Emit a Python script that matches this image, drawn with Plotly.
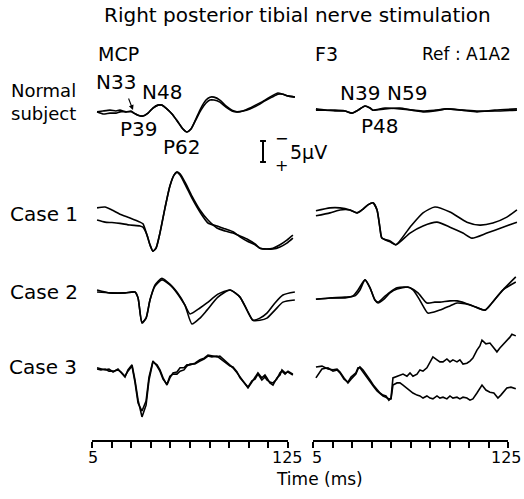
import plotly.graph_objects as go

# ---------------- data: time (ms), amplitude (µV, negative = upward) ----------------
# Normal subject, MCP
t_norm_mcp = [8.1, 11.7, 16.0, 19.7, 22.1, 25.8, 28.9, 30.7, 33.2, 36.2, 39.3, 42.3, 45.4, 47.8, 50.3,
              54.0, 57.6, 60.7, 63.1, 65.6, 68.6, 71.7, 74.8, 77.2, 79.7, 83.3, 87.0, 90.7, 93.7, 97.4,
              101.7, 106.6, 110.9, 115.2, 118.8, 121.9, 124.9, 129.2]
v_norm_mcp_a = [0.2, 0, -0.2, 0, -0.2, 0.2, 0, 0.5, 1.0, 1.2, 0.5, -0.7, -1.4, -1.4, -0.7,
                0.7, 2.6, 4.3, 5.0, 4.3, 1.9, -0.7, -2.6, -3.3, -3.3, -2.6, -1.2, -0.2, 0.2, 0,
                -0.7, -1.7, -2.6, -3.6, -4.3, -4.0, -3.6, -3.3]
v_norm_mcp_b = [0.2, 0.7, 0.5, 0.5, 0.2, 0.2, 0.2, 0.5, 1.0, 1.2, 0.5, -0.7, -1.4, -1.4, -0.7,
                0.7, 2.6, 4.3, 5.0, 4.3, 2.1, -0.2, -1.9, -2.6, -2.6, -2.1, -0.9, 0, 0.2, 0,
                -0.5, -1.4, -2.4, -3.3, -4.0, -4.0, -3.6, -3.3]

# Normal subject, F3
t_norm_f3 = [6.8, 12.4, 18.5, 24.7, 29.0, 32.7, 37.0, 40.1, 41.9, 49.3, 58.5, 65.9, 72.7, 80.0,
             87.4, 96.6, 105.9, 116.9, 130.5]
v_norm_f3_a = [-0.5, -0.2, -0.2, 0, 0.5, -0.2, -1.2, -0.7, -0.2, -0.5, -0.7, -0.2, 0, -0.2,
               -0.5, -0.2, 0, 0, -0.2]
v_norm_f3_b = [-0.2, -0.2, 0, 0, 0.5, -0.2, -1.2, -0.7, -0.2, -0.7, -0.5, -0.2, 0.2, 0,
               -0.5, -0.2, 0.2, -0.2, -0.5]

# Case 1, MCP
t_c1_mcp = [8.1, 13.0, 17.2, 22.1, 28.3, 34.4, 36.2, 38.7, 40.5, 42.3, 44.2, 46.6, 49.7, 52.7,
            55.2, 57.0, 58.9, 62.5, 66.2, 71.1, 76.0, 81.5, 86.4, 91.3, 95.6, 99.9, 104.8, 107.8,
            112.1, 115.8, 120.1, 124.3, 128.0]
v_c1_mcp_a = [-1.7, -1.9, -1.2, -0.2, 0.7, 1.7, 2.1, 4.8, 7.1, 8.6, 7.9, 4.3, -1.7, -6.9,
              -9.5, -10.2, -9.8, -7.4, -4.5, -1.2, 1.2, 3.1, 3.8, 4.3, 5.0, 5.7, 6.9, 7.9,
              8.1, 8.1, 7.6, 6.7, 5.5]
v_c1_mcp_b = [1.2, 1.7, 1.8, 2.0, 2.4, 2.6, 2.9, 4.8, 7.1, 8.6, 7.9, 4.3, -1.7, -6.9,
              -9.5, -10.2, -9.5, -6.9, -4.0, -0.7, 1.9, 2.6, 3.3, 4.0, 5.2, 6.2, 7.1, 7.9,
              8.1, 7.9, 7.1, 6.0, 4.8]

# Case 1, F3
t_c1_f3_a = [6.8, 15.5, 21.6, 27.8, 32.1, 35.1, 38.8, 41.9, 44.4, 46.2, 47.4, 52.4, 56.0,
             64.7, 72.7, 80.0, 89.3, 99.7, 107.7, 115.7, 124.3, 130.5]
v_c1_f3_a = [-1.0, -1.7, -1.7, -1.2, -0.5, -1.2, -2.4, -2.9, -1.2, 3.1, 5.5, 6.4, 7.1,
             2.9, -0.5, -1.9, -0.7, 1.7, 2.4, 1.9, 0.5, -1.2]
t_c1_f3_b = [6.8, 15.5, 21.6, 27.8, 32.1, 35.1, 38.8, 41.9, 44.4, 46.2, 47.4, 52.4, 56.0,
             64.7, 72.7, 81.3, 89.3, 97.3, 102.8, 112.0, 121.9, 130.5]
v_c1_f3_b = [0.2, -0.5, -1.2, -1.2, -0.5, -1.2, -2.4, -2.9, -1.2, 3.1, 5.5, 6.2, 7.1,
             4.3, 2.6, 1.7, 2.9, 4.3, 5.5, 4.3, 2.9, 1.7]

# Case 2, MCP
t_c2_mcp_a = [8.1, 16.0, 25.2, 31.3, 33.2, 35.6, 38.1, 40.5, 43.6, 47.8, 52.7, 57.0, 61.9,
              66.2, 71.1, 75.4, 82.1, 89.5, 95.6, 99.9, 103.5, 107.8, 112.1, 117.0, 121.9, 129.2]
v_c2_mcp_a = [-0.7, -0.5, -0.5, -0.7, 0.7, 6.7, 5.5, 1.2, -2.4, -4.0, -2.6, -0.7, 2.4,
              6.9, 5.5, 3.6, 0.5, -1.2, 0.5, 3.6, 6.0, 5.5, 4.3, 1.9, 0, -0.7]
t_c2_mcp_b = [8.1, 16.0, 25.2, 31.3, 33.2, 35.6, 38.1, 40.5, 43.6, 47.8, 52.7, 57.0, 61.9,
              65.0, 71.1, 75.4, 82.1, 89.5, 95.6, 99.9, 103.5, 107.8, 112.1, 117.0, 121.9, 129.2]
v_c2_mcp_b = [-1.2, -0.5, -0.5, -0.7, 0.7, 6.5, 5.5, 1.2, -2.1, -3.6, -2.4, -0.5, 2.4,
              4.5, 3.1, 1.9, -0.2, -1.2, 0.5, 3.6, 6.0, 6.0, 5.5, 3.6, 1.7, 1.2]

# Case 2, F3
t_c2_f3_a = [6.8, 15.5, 24.7, 30.8, 33.9, 37.0, 40.1, 43.1, 45.0, 48.7, 52.4, 56.7, 63.4, 66.5,
             69.6, 72.7, 75.7, 80.0, 83.1, 89.3, 93.6, 98.5, 103.4, 110.8, 115.1, 121.9, 129.8]
v_c2_f3_a = [1.0, 0.7, 0.5, 0.2, -1.2, -3.6, -1.7, 1.2, 1.9, 1.0, -0.5, -1.4, -1.9, -1.2,
             0.5, 2.6, 4.3, 4.0, 3.6, 2.6, 1.9, 2.1, 2.6, 3.6, 1.9, -1.2, -4.3]
t_c2_f3_b = [6.8, 15.5, 24.7, 29.6, 32.7, 37.0, 40.1, 43.1, 45.0, 48.7, 52.4, 56.7, 61.6, 64.7,
             69.6, 75.1, 80.0, 83.1, 89.3, 93.6, 98.5, 103.4, 110.8, 115.1, 121.9, 129.8]
v_c2_f3_b = [1.0, 0.7, 0.7, 0.2, -1.2, -3.6, -1.7, 1.2, 1.7, 0.5, -0.7, -1.7, -1.9, -1.7,
             -0.5, 1.9, 1.7, 1.7, 1.4, 1.4, 1.9, 2.6, 3.6, 1.9, -1.2, -3.1]

# Case 3, MCP
t_c3_mcp = [8.1, 10.5, 13.0, 15.4, 17.9, 20.9, 22.8, 25.2, 27.0, 29.5, 31.3, 33.2, 35.6, 38.1,
            39.9, 42.3, 44.8, 46.6, 48.5, 50.9, 52.7, 54.6, 57.0, 58.9, 61.3, 63.1, 65.0, 68.0,
            71.1, 73.6, 76.0, 78.4, 81.5, 83.3, 85.8, 87.6, 89.5, 91.3, 93.8, 95.6, 98.1, 100.5,
            102.9, 104.8, 106.6, 109.0, 110.9, 112.1, 113.9, 115.8, 118.2, 120.1, 121.3, 123.2,
            125.0, 128.0]
v_c3_mcp_a = [-1.0, -0.7, -0.5, -0.7, 0, -0.7, 0.2, 1.2, -0.5, -1.7, 1.9, 6.7, 10.7, 7.9,
              1.9, -2.4, -1.7, -0.5, 1.4, 3.1, 1.4, 0.2, 0, -1.0, -1.0, -1.7, -1.7, -2.1,
              -2.9, -3.3, -4.0, -3.8, -3.6, -3.8, -2.9, -2.4, -1.7, -1.0, 0.2, 1.2, 2.4, 3.8,
              2.4, 1.4, 0.2, 1.4, 0.7, 1.4, 2.6, 3.1, 1.4, 0.7, -0.5, 0.2, 0, 0.7]
v_c3_mcp_b = [-0.7, -0.5, -0.7, -0.2, -0.2, -0.5, 0, 1.0, -0.2, -1.4, 2.4, 7.4, 9.3, 6.9,
              1.2, -2.6, -1.4, -0.2, 1.7, 2.9, 1.0, 0.5, 0.5, -0.2, -0.5, -1.4, -1.9, -1.9,
              -2.6, -3.1, -3.8, -3.6, -3.8, -3.3, -2.6, -2.1, -1.4, -1.2, 0, 1.4, 2.6, 3.6,
              2.1, 1.7, 0.5, 1.9, 1.2, 1.9, 2.4, 2.6, 1.7, 0.2, -0.2, 0.5, -0.2, 0.5]

# Case 3, F3
t_c3_f3_a = [6.8, 10.5, 14.2, 17.3, 19.8, 21.6, 24.1, 26.5, 28.4, 29.6, 31.4, 32.7, 33.9, 35.8,
             38.2, 40.1, 42.5, 44.4, 46.2, 48.1, 49.9, 51.7, 53.0,
             54.2, 56.7, 58.5, 60.4, 62.8, 64.7, 66.5, 69.0, 70.8, 72.7, 75.1, 77.0, 78.8, 81.3,
             83.1, 85.0, 87.4, 89.3, 91.1, 93.6, 95.4, 97.3, 99.7, 101.6, 103.4, 105.9, 107.7,
             109.0, 111.4, 113.9, 116.3, 118.2, 120.0, 122.5, 124.3, 126.2, 127.4, 129.8]
v_c3_f3_a = [-1.2, -1.4, -0.7, -0.5, -0.7, 0, 1.4, 2.6, 1.7, 1.2, 0.5, -0.7, -1.2, -0.5,
             1.0, 1.9, 3.3, 4.3, 5.0, 5.5, 5.7, 6.7, 6.2,
             1.4, 1.0, 0.7, 0.5, 1.0, 0.2, 1.0, 0.5, -0.5, -0.2, -1.0, -2.4, -3.6, -2.9,
             -2.4, -2.4, -3.1, -2.4, -2.9, -2.4, -2.9, -1.9, -2.1, -2.6, -3.3, -5.2, -6.2,
             -7.6, -6.7, -6.9, -5.7, -4.8, -5.7, -6.7, -7.6, -8.3, -9.0, -8.6]
t_c3_f3_b = [6.8, 10.5, 14.2, 17.3, 19.8, 21.6, 24.1, 26.5, 28.4, 29.6, 31.4, 32.7, 33.9, 35.8,
             38.2, 40.1, 42.5, 44.4, 46.2, 48.1, 49.9, 51.7, 53.0,
             54.2, 56.7, 58.5, 60.4, 62.8, 64.7, 66.5, 69.0, 70.8, 72.7, 75.1, 77.0, 78.8, 81.3,
             83.1, 85.0, 87.4, 89.3, 91.1, 93.6, 95.4, 97.3, 99.7, 101.6, 103.4, 105.9, 107.7,
             109.0, 111.4, 113.9, 116.3, 118.8, 120.6, 122.5, 124.3, 126.8, 129.8]
v_c3_f3_b = [1.4, -0.7, -1.0, -0.2, -0.5, 0.2, 1.7, 2.4, 1.2, 0.7, 0.2, -1.0, -1.0, 0,
             1.4, 2.4, 3.6, 4.5, 5.2, 5.7, 6.0, 6.4, 6.4,
             3.1, 2.6, 2.6, 3.1, 3.8, 4.5, 5.0, 5.5, 5.7, 6.2, 5.7, 6.2, 6.4, 5.7,
             6.2, 6.0, 6.4, 5.7, 6.2, 6.0, 6.4, 6.0, 6.2, 6.7, 6.4, 5.0, 3.8,
             3.1, 4.3, 4.8, 5.0, 6.2, 5.5, 4.5, 3.8, 3.6, 4.0]

time_ticks = [5, 17, 29, 41, 53, 65, 77, 89, 101, 113, 125]
time_end_labels = [(5, "5"), (125, "125")]
scale_uv = 5

# ---------------- layout geometry ----------------
W, H = 524, 499
PX_PER_UV = 4.2
L5, L125 = 92, 288      # px of 5 ms / 125 ms, left panel
R5, R125 = 313, 508     # px of 5 ms / 125 ms, right panel
AXIS_Y = 441


def full_range(p5, p125):
    k = 120.0 / (p125 - p5)
    return [5 - p5 * k, 5 + (W - p5) * k]


row_px = {"normal": 111, "c1": 215, "c2": 295, "c3": 372}
FONT = "DejaVu Sans"

fig = go.Figure()


def add(t, v, xa, row, shape="spline"):
    off = row_px[row] / PX_PER_UV
    fig.add_trace(go.Scatter(
        x=t, y=[off + a for a in v], xaxis=xa, yaxis="y", mode="lines",
        line=dict(color="black", width=1.6, shape=shape, smoothing=0.6),
        hoverinfo="skip", showlegend=False))


add(t_norm_mcp, v_norm_mcp_a, "x", "normal")
add(t_norm_mcp, v_norm_mcp_b, "x", "normal")
add(t_norm_f3, v_norm_f3_a, "x2", "normal")
add(t_norm_f3, v_norm_f3_b, "x2", "normal")
add(t_c1_mcp, v_c1_mcp_a, "x", "c1")
add(t_c1_mcp, v_c1_mcp_b, "x", "c1")
add(t_c1_f3_a, v_c1_f3_a, "x2", "c1")
add(t_c1_f3_b, v_c1_f3_b, "x2", "c1")
add(t_c2_mcp_a, v_c2_mcp_a, "x", "c2")
add(t_c2_mcp_b, v_c2_mcp_b, "x", "c2")
add(t_c2_f3_a, v_c2_f3_a, "x2", "c2")
add(t_c2_f3_b, v_c2_f3_b, "x2", "c2")
add(t_c3_mcp, v_c3_mcp_a, "x", "c3", "linear")
add(t_c3_mcp, v_c3_mcp_b, "x", "c3", "linear")
add(t_c3_f3_a, v_c3_f3_a, "x2", "c3", "linear")
add(t_c3_f3_b, v_c3_f3_b, "x2", "c3", "linear")

# scale bar (5 µV) on the left panel's scale
bar_t = 109.7
bar_top = 141 / PX_PER_UV
sw = 1.8
fig.add_trace(go.Scatter(
    x=[bar_t - sw, bar_t + sw, None, bar_t, bar_t, None, bar_t - sw, bar_t + sw],
    y=[bar_top, bar_top, None, bar_top, bar_top + scale_uv, None, bar_top + scale_uv, bar_top + scale_uv],
    xaxis="x", yaxis="y", mode="lines", line=dict(color="black", width=2),
    hoverinfo="skip", showlegend=False))

# invisible traces so the displayed time axes are drawn
for xa in ("x3", "x4"):
    fig.add_trace(go.Scatter(x=[5, 125], y=[0, 0], xaxis=xa, yaxis="y", mode="markers",
                             marker=dict(opacity=0), hoverinfo="skip", showlegend=False))


def P(x, y):
    return x / W, 1 - y / H


ann = []


def label(text, x, y, size=20, xanchor="center"):
    px, py = P(x, y)
    ann.append(dict(text=text, x=px, y=py, xref="paper", yref="paper", showarrow=False,
                    xanchor=xanchor, yanchor="middle", font=dict(family=FONT, size=size, color="black")))


label("Right posterior tibial nerve stimulation", 297, 15)
label("MCP", 96, 54, size=19, xanchor="left")
label("F3", 313, 54, size=19, xanchor="left")
label("Ref : A1A2", 513, 54, size=17, xanchor="right")
label("Normal", 9, 91, size=18, xanchor="left")
label("subject", 9, 113, size=18, xanchor="left")
label("N33", 116, 82)
label("N48", 162, 92)
label("P39", 139, 129)
label("P62", 182, 147)
label("N39", 360, 93)
label("N59", 407, 93)
label("P48", 380, 126)
label("Case 1", 8, 214, xanchor="left")
label("Case 2", 8, 292, xanchor="left")
label("Case 3", 7, 367, xanchor="left")
label("−", 281, 139, size=16)
label("+", 281, 165, size=16)
label("5µV", 288, 152, size=19, xanchor="left")
label("Time (ms)", 319, 479, size=17)

# end labels of the time axes, placed on the axes' own scales
label_y = 1 - 457 / H
for xa, shifts in (("x3", (1, -1)), ("x4", (4, -2))):
    for (tv, txt), sh in zip(time_end_labels, shifts):
        ann.append(dict(text=txt, x=tv, y=label_y, xref=xa, yref="paper", showarrow=False,
                        xanchor="center", yanchor="middle", xshift=sh,
                        font=dict(family=FONT, size=16, color="black")))

tx, ty = P(133, 110)
ann.append(dict(text="", x=tx, y=ty, xref="paper", yref="paper", showarrow=True,
                ax=-5, ay=-13, arrowhead=2, arrowsize=0.9, arrowwidth=1.1, arrowcolor="black"))

tick_style = dict(range=[5, 125], anchor="free", position=1 - AXIS_Y / H, showline=True,
                  linecolor="black", linewidth=1.6, ticks="outside", ticklen=6, tickwidth=1.6,
                  tickcolor="black", tickvals=time_ticks, showticklabels=False, showgrid=False,
                  zeroline=False, fixedrange=True)

fig.update_layout(
    width=W, height=H, margin=dict(l=0, r=0, t=0, b=0, autoexpand=False),
    paper_bgcolor="white", plot_bgcolor="rgba(0,0,0,0)", showlegend=False,
    xaxis=dict(domain=[0, 1], range=full_range(L5, L125), visible=False, fixedrange=True),
    xaxis2=dict(domain=[0, 1], range=full_range(R5, R125), visible=False, overlaying="x",
                fixedrange=True),
    xaxis3=dict(domain=[L5 / W, L125 / W], **tick_style),
    xaxis4=dict(domain=[R5 / W, R125 / W], **tick_style),
    yaxis=dict(domain=[0, 1], range=[H / PX_PER_UV, 0], visible=False, fixedrange=True),
    annotations=ann,
)

fig.write_html("out.html")
